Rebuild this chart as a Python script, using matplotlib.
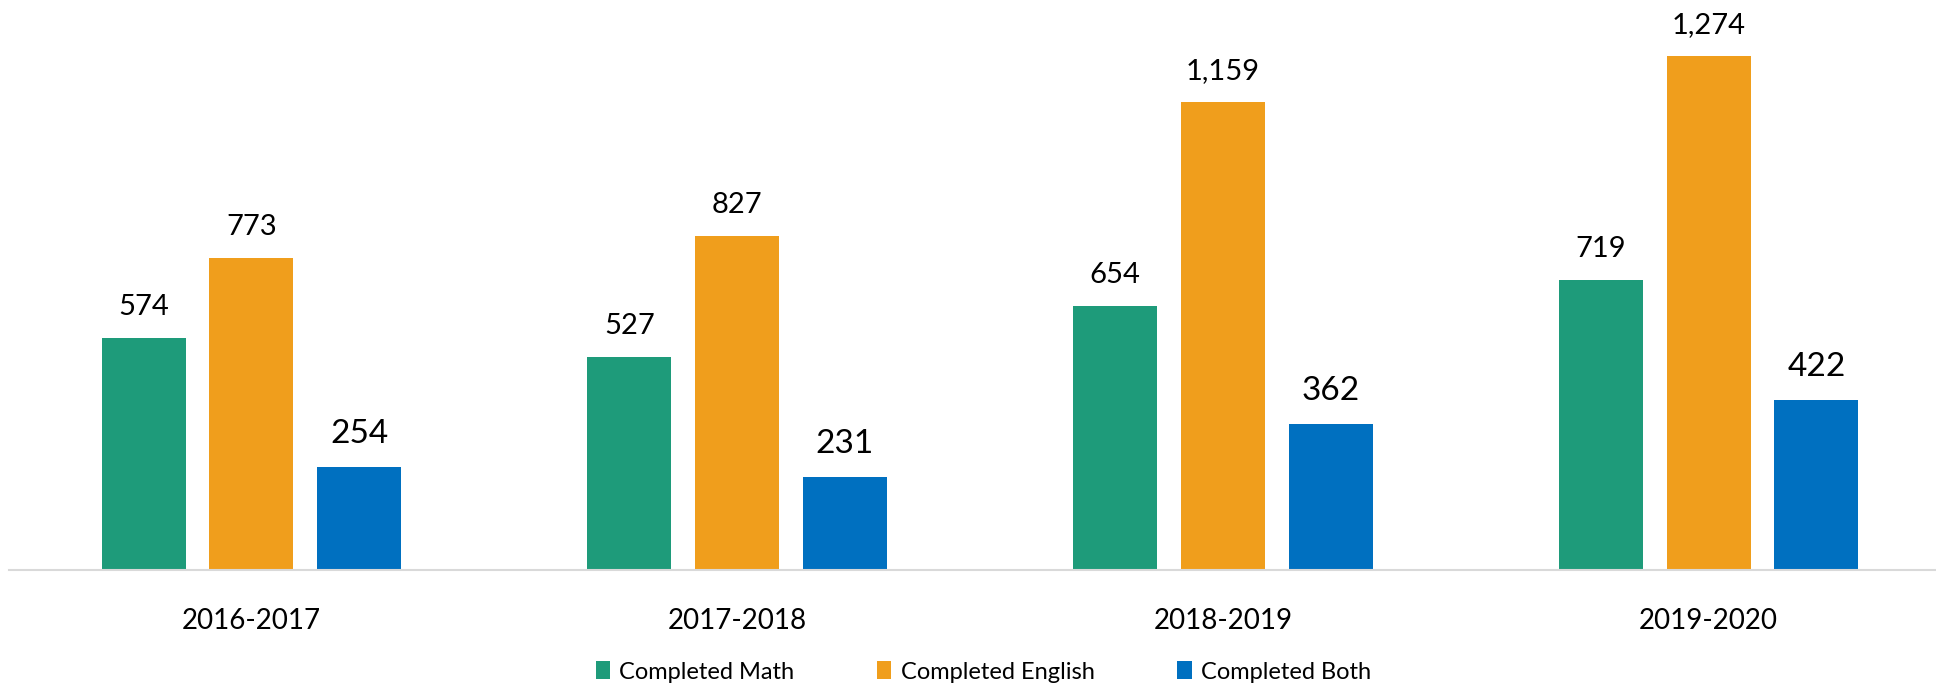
import matplotlib.pyplot as plt
import numpy as np

years = ["2016-2017", "2017-2018", "2018-2019", "2019-2020"]
math_done = [574, 527, 654, 719]
english_done = [773, 827, 1159, 1274]
both_done = [254, 231, 362, 422]

series_names = ["Completed Math", "Completed English", "Completed Both"]
colors = ["#1e9b7a", "#f09e1c", "#0070c0"]

plt.rcParams['font.family'] = ['Lato', 'DejaVu Sans']

fig = plt.figure(figsize=(19.36, 6.87), dpi=100)
ax = fig.add_axes([0.0044, 0.1703, 1.0036, 0.8297])

x = np.arange(len(years))
width = 0.173
step = 0.222

series = [math_done, english_done, both_done]
label_sizes = [21, 21, 24]
for i, (vals, name, col) in enumerate(zip(series, series_names, colors)):
    bars = ax.bar(x + (i - 1) * step, vals, width, color=col, label=name)
    for b, v in zip(bars, vals):
        ax.annotate(f"{v:,}", (b.get_x() + b.get_width() / 2, v),
                    textcoords="offset points", xytext=(0, 13),
                    ha="center", va="bottom", fontsize=label_sizes[i])

ax.set_xlim(-0.5, 3.5)
ax.set_ylim(0, 1412)
ax.set_xticks(x)
ax.set_xticklabels(years, fontsize=20)
ax.tick_params(axis="x", length=0, pad=27)
ax.set_yticks([])
for s in ["top", "right", "left"]:
    ax.spines[s].set_visible(False)
ax.spines["bottom"].set_color("#d9d9d9")
ax.spines["bottom"].set_linewidth(1.5)

fig.legend(loc="center", bbox_to_anchor=(0.508, 0.022), ncol=3, frameon=False,
           fontsize=17, handlelength=0.6, handleheight=0.8, handletextpad=0.4,
           columnspacing=3.5)

fig.savefig("out.png", dpi=100)
